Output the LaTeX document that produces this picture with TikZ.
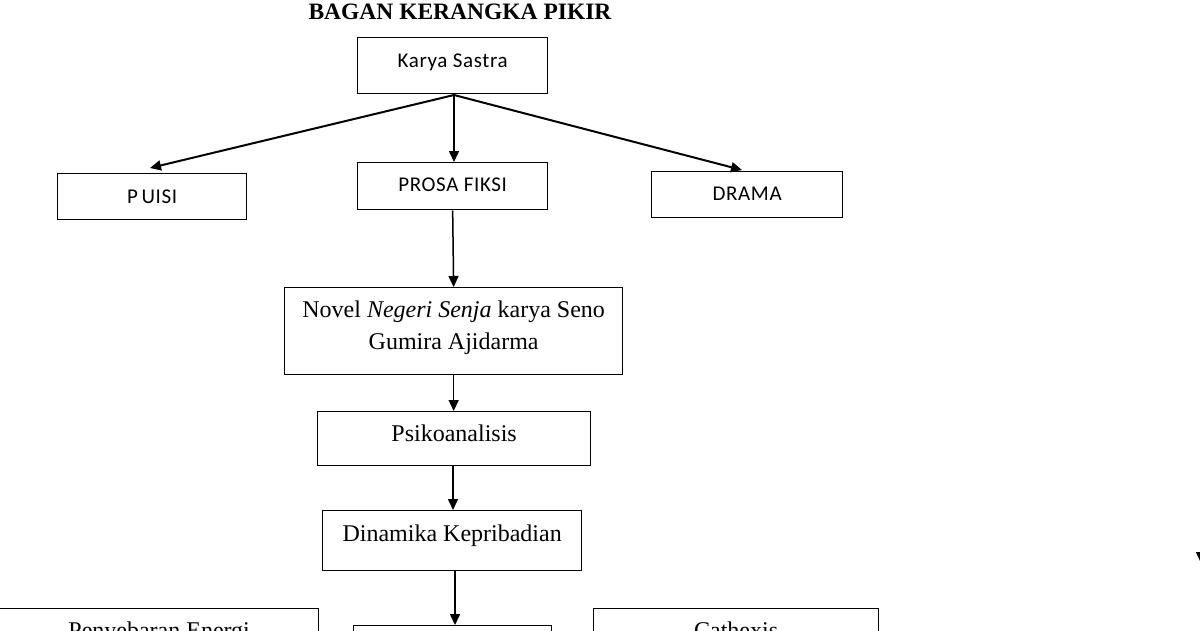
\documentclass[tikz,border=0pt]{standalone}
\usepackage{fontspec}
\setmainfont{Liberation Serif}
\newfontfamily\calib[LetterSpace=3]{Carlito}
\usetikzlibrary{arrows.meta}
\begin{document}
\begin{tikzpicture}[x=1pt,y=-1pt,
  box/.style={draw,line width=1.3pt,inner sep=0pt,anchor=north west},
  sbox/.style={box,font=\calib\fontsize{21}{25}\selectfont},
  tbox/.style={box,font=\fontsize{24}{33}\selectfont},
  arr/.style={line width=1.5pt,-{Triangle[length=11pt,width=10pt]}}]
\useasboundingbox (0,0) rectangle (1200,630);
\clip (0,0) rectangle (1200,630);
\node[font=\bfseries\fontsize{23.5}{26}\selectfont] (title) at (460,12) {BAGAN KERANGKA PIKIR};
\node[sbox,minimum width=190pt,minimum height=56pt] (ks) at (357,37) {\raisebox{9pt}{Karya Sastra}};
\node[sbox,minimum width=189pt,minimum height=46pt] (puisi) at (57,173) {P\,UISI};
\node[sbox,minimum width=190pt,minimum height=47pt] (prosa) at (357,162) {\raisebox{3pt}{PROSA FIKSI}};
\node[sbox,minimum width=191pt,minimum height=46pt] (drama) at (651,171) {\raisebox{1pt}{DRAMA}};
\node[tbox,minimum width=338pt,minimum height=87pt] (novel) at (284,287) {\raisebox{-2pt}[0pt][0pt]{\begin{tabular}{@{}c@{}}Novel \textit{Negeri Senja} karya Seno\\[-0.5pt] Gumira Ajidarma\end{tabular}}};
\node[tbox,minimum width=273pt,minimum height=54pt] (psiko) at (317,411) {\raisebox{10pt}{Psikoanalisis}};
\node[tbox,minimum width=259pt,minimum height=60pt] (dina) at (322,510) {\raisebox{15pt}{Dinamika Kepribadian}};
\node[tbox,minimum width=319pt,minimum height=60pt,text height=17pt,anchor=north west] (peny) at (-1,608) {\raisebox{9pt}{Penyebaran Energi}};
\node[tbox,minimum width=198pt,minimum height=40pt] (mid) at (353,625) {};
\node[tbox,minimum width=285pt,minimum height=60pt,text height=17pt] (cath) at (593,608) {\raisebox{9pt}{Cathexis}};
\coordinate (ksb) at (454,95);
\draw[arr,line width=2pt] (ksb) -- (150,168) coordinate (pu);
\draw[arr] (ksb) -- (prosa.north -| ksb);
\draw[arr,line width=2pt] (ksb) -- (742,170) coordinate (dr);
\draw[arr] (prosa.south) -- (novel.north);
\draw[arr] (novel.south) -- (novel.south |- psiko.north);
\draw[arr] (psiko.south -| 453,0) -- (dina.north -| 453,0);
\draw[arr] (dina.south -| 455,0) -- (mid.north -| 455,0);
\coordinate (r1) at (1201,500);
\coordinate (r2) at (1201,563);
\draw[arr] (r1) -- (r2);
\end{tikzpicture}
\end{document}
